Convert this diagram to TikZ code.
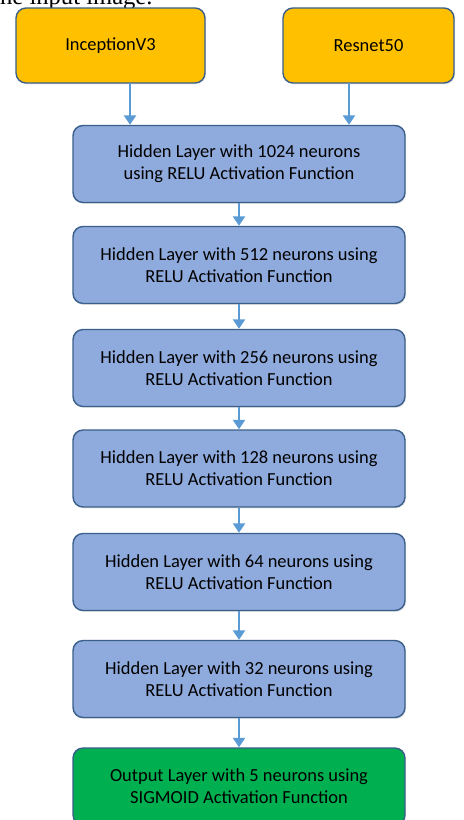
\documentclass[tikz,border=0pt]{standalone}
\usepackage{fontspec}
\setmainfont{Carlito}
\newfontfamily\paperfont{Liberation Serif}
\usetikzlibrary{arrows.meta,shadows}
\definecolor{boxyellow}{HTML}{FFC000}
\definecolor{boxblue}{HTML}{8FAADC}
\definecolor{boxgreen}{HTML}{00B050}
\definecolor{boxedge}{HTML}{3A5F8A}
\definecolor{flowblue}{HTML}{5B9BD5}
\begin{document}
\begin{tikzpicture}[x=0.02cm, y=-0.02cm,
  layerbox/.style={draw=boxedge, line width=0.8pt, rounded corners=0.2cm,
    align=center, text=black, inner sep=0pt,
    drop shadow={opacity=0.2, shadow xshift=0.6pt, shadow yshift=-0.8pt},
    font=\fontsize{10.5}{12.6}\selectfont},
  hidden/.style={layerbox, fill=boxblue, minimum width=6.64cm, minimum height=1.54cm},
  flow/.style={draw=flowblue, line width=1.3pt, -{Triangle[width=0.24cm, length=0.19cm]}}]
  \useasboundingbox (0, 0) rectangle (463, 820);
  \clip (0, 0) rectangle (463, 820);
  \fill[white] (0, 0) rectangle (463, 820);
  % cut-off line of the paper above the figure
  \node (cap) [anchor=base west, inner sep=0pt, font=\paperfont\fontsize{14}{16}\selectfont] at (-7, 5) {the input image.};
  \node (inc) [layerbox, fill=boxyellow, minimum width=3.78cm, minimum height=1.5cm] at (110.5, 45.5) {InceptionV3};
  \node (res) [layerbox, fill=boxyellow, minimum width=3.42cm, minimum height=1.5cm] at (368.5, 45.5) {Resnet50};
  \node (h1) [hidden] at (239, 164) {Hidden Layer with 1024 neurons\\using RELU Activation Function};
  \node (h2) [hidden] at (239, 265) {Hidden Layer with 512 neurons using\\RELU Activation Function};
  \node (h3) [hidden] at (239, 368) {Hidden Layer with 256 neurons using\\RELU Activation Function};
  \node (h4) [hidden] at (239, 468.5) {Hidden Layer with 128 neurons using\\RELU Activation Function};
  \node (h5) [hidden] at (239, 572) {Hidden Layer with 64 neurons using\\RELU Activation Function};
  \node (h6) [hidden] at (239, 679) {Hidden Layer with 32 neurons using\\RELU Activation Function};
  \node (out) [hidden, fill=boxgreen] at (239, 786.5) {Output Layer with 5 neurons using\\SIGMOID Activation Function};
  \coordinate (incfoot) at (130, 83);
  \coordinate (resfoot) at (349, 83);
  \draw [flow] (incfoot) to (incfoot |- h1.north);
  \draw [flow] (resfoot) to (resfoot |- h1.north);
  \draw [flow] (h1) to (h2);
  \draw [flow] (h2) to (h3);
  \draw [flow] (h3) to (h4);
  \draw [flow] (h4) to (h5);
  \draw [flow] (h5) to (h6);
  \draw [flow] (h6) to (out);
\end{tikzpicture}
\end{document}
